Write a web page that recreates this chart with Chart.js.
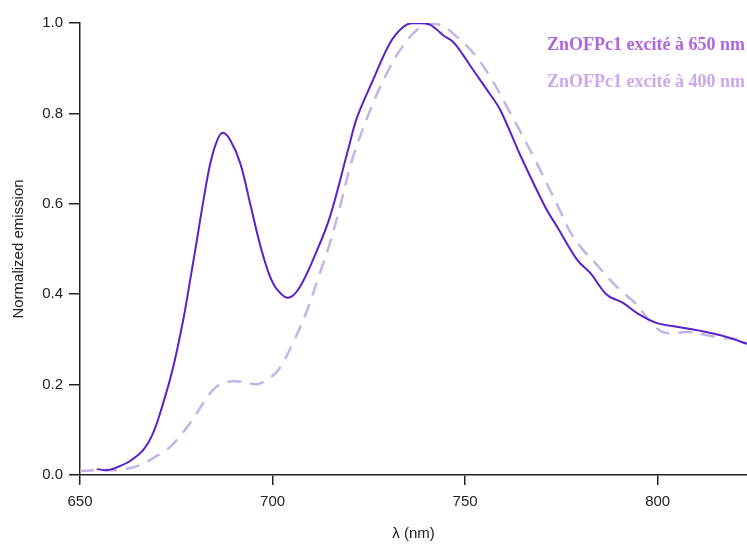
<!DOCTYPE html>
<html lang="fr">
<head>
    <meta charset="UTF-8">
    <title>ZnOFPc1 - émission normalisée</title>
    <script src="https://cdn.jsdelivr.net/npm/chart.js"></script>
    <style>
        html, body { margin: 0; padding: 0; background: #fff; }
        #wrap { width: 747px; height: 545px; }
    </style>
</head>
<body>
    <div id="wrap"><canvas id="grafico"></canvas></div>

    <script>
        // spectre excité à 650 nm (trait plein)
        const nm650 = [654.4, 657.3, 660.4, 663.0, 666.4, 669.0, 671.6, 674.2, 676.8, 678.6,
            680.4, 681.9, 683.8, 685.6, 687.1, 689.0, 691.6, 694.2, 696.0, 697.5, 699.3, 701.2, 704.0,
            707.1, 711.6, 714.9, 719.6, 721.9, 726.1, 730.5, 733.9, 736.2, 740.4,
            742.7, 744.3, 746.9, 749.5, 752.1, 755.7, 759.1, 764.3, 770.8, 773.9,
            779.1, 782.5, 786.9, 791.0, 794.7, 799.9, 805.8, 812.9, 818.1, 823.2];
        const em650 = [0.013, 0.011, 0.020, 0.031, 0.055, 0.093, 0.159, 0.239, 0.343, 0.431,
            0.522, 0.600, 0.688, 0.740, 0.757, 0.741, 0.690, 0.600, 0.535, 0.487, 0.440, 0.410, 0.392,
            0.416, 0.498, 0.571, 0.719, 0.790, 0.874, 0.956, 0.991, 1.000, 0.998,
            0.985, 0.973, 0.958, 0.929, 0.896, 0.852, 0.808, 0.708, 0.593, 0.549,
            0.476, 0.447, 0.398, 0.381, 0.358, 0.336, 0.327, 0.316, 0.305, 0.290];

        // spectre excité à 400 nm (tirets)
        const nm400 = [650.0, 655.2, 660.4, 665.6, 669.5, 673.4, 678.6, 684.5, 688.2, 692.3,
            696.0, 699.4, 701.9, 705.3, 709.0, 712.3, 714.9, 717.5, 720.9, 726.1,
            729.7, 733.1, 737.5, 740.9, 744.3, 747.9, 752.1, 756.5, 760.9, 768.2,
            775.2, 777.3, 780.6, 783.8, 787.7, 790.3, 794.7, 797.3, 801.4, 808.4,
            815.5, 823.2];
        const em400 = [0.009, 0.011, 0.011, 0.022, 0.040, 0.062, 0.115, 0.188, 0.206, 0.206,
            0.201, 0.215, 0.237, 0.292, 0.365, 0.447, 0.513, 0.593, 0.704, 0.823,
            0.889, 0.940, 0.985, 0.998, 0.993, 0.969, 0.934, 0.881, 0.814, 0.697,
            0.575, 0.538, 0.498, 0.469, 0.431, 0.409, 0.376, 0.347, 0.316, 0.316,
            0.305, 0.299];

        const seriesLabels = ['ZnOFPc1 excité à 650 nm', 'ZnOFPc1 excité à 400 nm'];
        const xTicks = [650, 700, 750, 800];
        const yTicks = [0, 0.2, 0.4, 0.6, 0.8, 1.0];

        const pontos = (xs, ys) => xs.map((x, i) => ({ x: x, y: ys[i] }));

        // légende écrite en haut à droite, dans la zone du graphe
        const legendaTexto = {
            id: 'legendaTexto',
            afterDraw(chart, args, opts) {
                const ctx = chart.ctx;
                ctx.save();
                ctx.font = opts.font;
                ctx.textAlign = 'right';
                ctx.textBaseline = 'middle';
                chart.data.datasets.forEach((ds, i) => {
                    ctx.fillStyle = opts.colors[i];
                    ctx.fillText(ds.label, opts.x, opts.y + i * opts.gap);
                });
                ctx.restore();
            }
        };

        const eixoFonte = { family: "'Liberation Sans', Arial, sans-serif", size: 15 };

        new Chart(document.getElementById('grafico'), {
            type: 'line',
            data: {
                datasets: [
                    {
                        label: seriesLabels[0],
                        data: pontos(nm650, em650),
                        borderColor: '#5a22c6',
                        borderWidth: 2,
                        pointRadius: 0,
                        tension: 0.35
                    },
                    {
                        label: seriesLabels[1],
                        data: pontos(nm400, em400),
                        borderColor: '#c3b4e4',
                        borderWidth: 2.5,
                        borderDash: [14, 9],
                        pointRadius: 0,
                        tension: 0.35
                    }
                ]
            },
            options: {
                responsive: true,
                maintainAspectRatio: false,
                animation: false,
                layout: { padding: { top: 23, right: 0, left: 0, bottom: 0 } },
                plugins: {
                    legend: { display: false },
                    tooltip: { enabled: false },
                    legendaTexto: {
                        font: "bold 18px 'Liberation Serif', 'Times New Roman', serif",
                        colors: ['#b064e0', '#c9a8ec'],
                        x: 745, y: 45, gap: 37
                    }
                },
                scales: {
                    x: {
                        type: 'linear',
                        min: 650,
                        max: 823.2,
                        afterFit: s => { s.height = 70; },
                        afterBuildTicks: s => { s.ticks = xTicks.map(v => ({ value: v })); },
                        ticks: { color: '#222', font: eixoFonte, padding: 8, maxRotation: 0 },
                        grid: { drawOnChartArea: false, drawTicks: true, tickLength: 10, color: '#222', lineWidth: 1.5 },
                        border: { display: true, color: '#222', width: 1.5 },
                        title: { display: true, text: 'λ (nm)', color: '#222', font: eixoFonte, padding: { top: 0, bottom: 2 } }
                    },
                    y: {
                        min: 0,
                        max: 1,
                        afterFit: s => { s.width = 80; },
                        afterBuildTicks: s => { s.ticks = yTicks.map(v => ({ value: v })); },
                        ticks: { color: '#222', font: eixoFonte, padding: 6, callback: v => v.toFixed(1) },
                        grid: { drawOnChartArea: false, drawTicks: true, tickLength: 11, color: '#222', lineWidth: 1.5 },
                        border: { display: true, color: '#222', width: 1.5 },
                        title: { display: true, text: 'Normalized emission', color: '#222', font: eixoFonte, padding: { top: 10, bottom: 0 } }
                    }
                }
            },
            plugins: [legendaTexto]
        });
    </script>
</body>
</html>
